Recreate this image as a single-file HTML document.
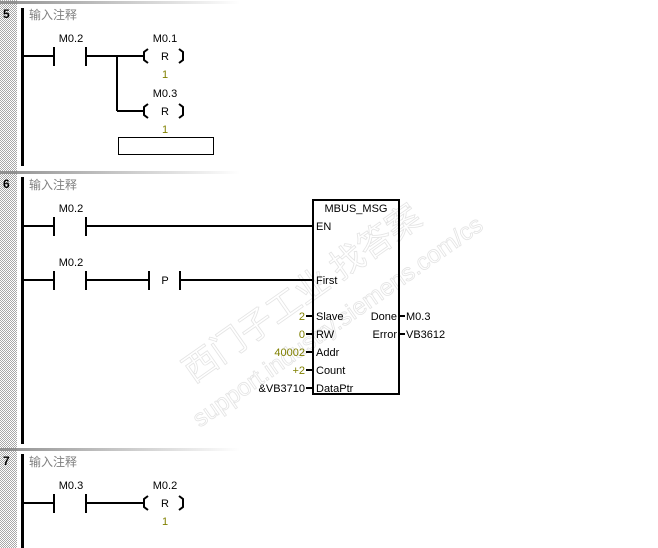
<!DOCTYPE html>
<html><head><meta charset="utf-8"><style>
html,body{margin:0;padding:0;background:#fff;}
svg{display:block;font-family:"Liberation Sans","Noto Sans CJK SC",sans-serif;font-size:11px;}
</style></head><body>
<svg width="658" height="548" xmlns="http://www.w3.org/2000/svg">
<defs>
<pattern id="h" width="2" height="2" patternUnits="userSpaceOnUse">
<rect width="2" height="2" fill="#fff"/><rect width="1" height="1" fill="#a8a8a8"/><rect x="1" y="1" width="1" height="1" fill="#a8a8a8"/>
</pattern>
<linearGradient id="g" x1="0" x2="1"><stop offset="0" stop-color="#909090"/><stop offset="1" stop-color="#fff"/></linearGradient>
</defs>
<rect x="0" y="0" width="17" height="548" fill="url(#h)"/>
<rect x="0" y="1" width="240" height="3" fill="url(#g)"/>
<rect x="0" y="171" width="240" height="3" fill="url(#g)"/>
<rect x="0" y="448" width="240" height="3" fill="url(#g)"/>
<rect x="0" y="1" width="17" height="3" fill="#909090"/>
<rect x="0" y="171" width="17" height="3" fill="#909090"/>
<rect x="0" y="448" width="17" height="3" fill="#909090"/>

<!-- watermark -->
<g fill="none" stroke="#e4e4e4" stroke-width="0.8" transform="rotate(-35 330 300)">
<text x="150" y="330" font-size="24">support.industry.siemens.com/cs</text>
<text x="170" y="290" font-size="34">西门子工业 找答案</text>
</g>

<g font-weight="bold" font-size="12"><text x="3" y="18">5</text><text x="3" y="188">6</text><text x="3" y="465">7</text></g>
<g fill="#808080" font-size="12"><text x="29" y="19">输入注释</text><text x="29" y="189">输入注释</text><text x="29" y="466">输入注释</text></g>

<g fill="#000">
<rect x="21" y="8" width="3" height="158"/>
<rect x="21" y="177" width="3" height="267"/>
<rect x="21" y="454" width="3" height="94"/>
</g>

<g stroke="#000" stroke-width="2" fill="none">
<line x1="23" y1="56" x2="54" y2="56"/><line x1="54" y1="47" x2="54" y2="66"/><line x1="86" y1="47" x2="86" y2="66"/>
<line x1="86" y1="56" x2="143" y2="56"/>
<line x1="117" y1="56" x2="117" y2="111"/><line x1="117" y1="111" x2="143" y2="111"/>
<path d="M148 49 L144 52 L144 60 L148 63"/><path d="M179 49 L183 52 L183 60 L179 63"/>
<path d="M148 104 L144 107 L144 115 L148 118"/><path d="M179 104 L183 107 L183 115 L179 118"/>
<line x1="23" y1="226" x2="54" y2="226"/><line x1="54" y1="217" x2="54" y2="236"/><line x1="86" y1="217" x2="86" y2="236"/>
<line x1="86" y1="226" x2="313" y2="226"/>
<line x1="23" y1="280" x2="54" y2="280"/><line x1="54" y1="271" x2="54" y2="290"/><line x1="86" y1="271" x2="86" y2="290"/>
<line x1="86" y1="280" x2="149" y2="280"/><line x1="149" y1="271" x2="149" y2="290"/><line x1="180" y1="271" x2="180" y2="290"/>
<line x1="180" y1="280" x2="313" y2="280"/>
<rect x="313" y="200" width="86" height="194"/>
<line x1="306" y1="316" x2="313" y2="316"/><line x1="306" y1="334" x2="313" y2="334"/><line x1="306" y1="352" x2="313" y2="352"/><line x1="306" y1="370" x2="313" y2="370"/><line x1="306" y1="388" x2="313" y2="388"/>
<line x1="399" y1="316" x2="405" y2="316"/><line x1="399" y1="334" x2="405" y2="334"/>
<line x1="23" y1="503" x2="54" y2="503"/><line x1="54" y1="494" x2="54" y2="513"/><line x1="86" y1="494" x2="86" y2="513"/>
<line x1="86" y1="503" x2="143" y2="503"/>
<path d="M148 496 L144 499 L144 507 L148 510"/><path d="M179 496 L183 499 L183 507 L179 510"/>
</g>
<rect x="118.5" y="137.5" width="95" height="17" fill="#fff" stroke="#000"/>

<g fill="#000" text-anchor="middle">
<text x="71" y="42">M0.2</text><text x="165" y="42">M0.1</text><text x="165" y="60">R</text>
<text x="165" y="97">M0.3</text><text x="165" y="115">R</text>
<text x="71" y="212">M0.2</text><text x="71" y="266">M0.2</text><text x="165" y="284">P</text>
<text x="356" y="212">MBUS_MSG</text>
<text x="71" y="489">M0.3</text><text x="165" y="489">M0.2</text><text x="165" y="507">R</text>
</g>
<g fill="#808000" text-anchor="middle"><text x="165" y="78">1</text><text x="165" y="133">1</text><text x="165" y="525">1</text></g>
<g fill="#000">
<text x="316" y="230">EN</text><text x="316" y="284">First</text>
<text x="316" y="320">Slave</text><text x="316" y="338">RW</text><text x="316" y="356">Addr</text><text x="316" y="374">Count</text><text x="316" y="392">DataPtr</text>
<text x="397" y="320" text-anchor="end">Done</text><text x="397" y="338" text-anchor="end">Error</text>
<text x="406" y="320">M0.3</text><text x="406" y="338">VB3612</text>
<text x="305" y="392" text-anchor="end">&amp;VB3710</text>
</g>
<g fill="#808000" text-anchor="end"><text x="305" y="320">2</text><text x="305" y="338">0</text><text x="305" y="356">40002</text><text x="305" y="374">+2</text></g>
</svg>
</body></html>
